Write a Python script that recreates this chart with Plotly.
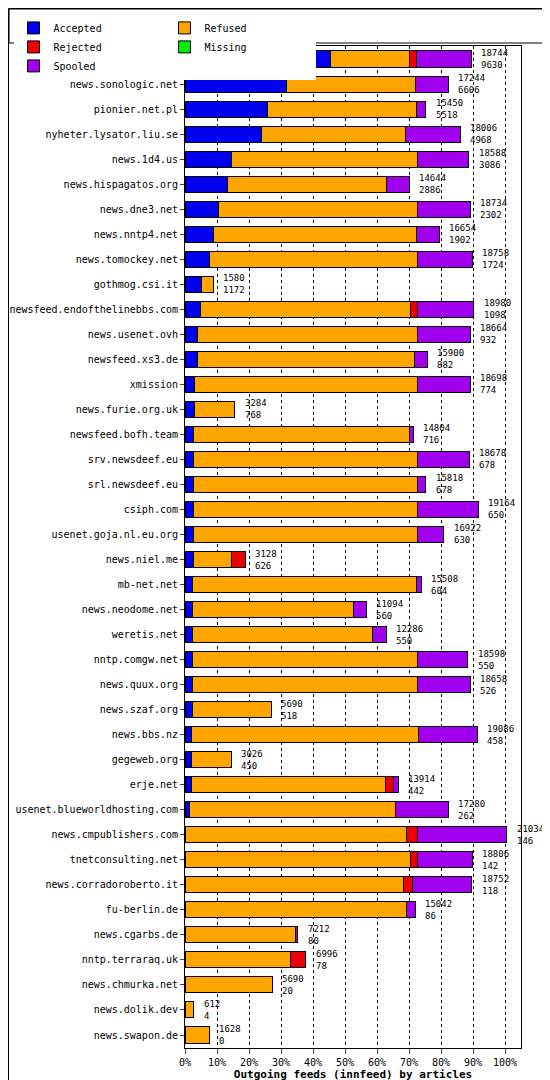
import plotly.graph_objects as go

hosts = ["news.ausics.net", "news.sonologic.net", "pionier.net.pl", "nyheter.lysator.liu.se",
         "news.1d4.us", "news.hispagatos.org", "news.dne3.net", "news.nntp4.net",
         "news.tomockey.net", "gothmog.csi.it", "newsfeed.endofthelinebbs.com", "news.usenet.ovh",
         "newsfeed.xs3.de", "xmission", "news.furie.org.uk", "newsfeed.bofh.team",
         "srv.newsdeef.eu", "srl.newsdeef.eu", "csiph.com", "usenet.goja.nl.eu.org",
         "news.niel.me", "mb-net.net", "news.neodome.net", "weretis.net",
         "nntp.comgw.net", "news.quux.org", "news.szaf.org", "news.bbs.nz",
         "gegeweb.org", "erje.net", "usenet.blueworldhosting.com", "news.cmpublishers.com",
         "tnetconsulting.net", "news.corradoroberto.it", "fu-berlin.de", "news.cgarbs.de",
         "nntp.terraraq.uk", "news.chmurka.net", "news.dolik.dev", "news.swapon.de"]
totals = [18744, 17244, 15450, 18006, 18588, 14644, 18734, 16654, 18758, 1580,
          18980, 18664, 15900, 18698, 3284, 14804, 18678, 15818, 19164, 16922,
          3128, 15508, 11094, 12286, 18598, 18658, 5690, 19086, 3026, 13914,
          17280, 21034, 18806, 18752, 15042, 7212, 6996, 5690, 612, 1628]
accepted_n = [9630, 6606, 5518, 4968, 3086, 2886, 2302, 1902, 1724, 1172,
              1098, 932, 882, 774, 768, 716, 678, 678, 650, 630,
              626, 604, 560, 550, 550, 526, 518, 458, 450, 442,
              262, 146, 142, 118, 86, 80, 78, 20, 4, 0]
# percentages
accepted = [45.6, 31.6, 25.9, 23.8, 14.4, 13.4, 10.6, 8.8, 7.8, 5.0,
            4.7, 3.8, 3.8, 3.1, 3.1, 2.8, 2.8, 2.8, 2.5, 2.5,
            2.5, 2.2, 2.2, 2.2, 2.2, 2.2, 2.2, 1.9, 1.9, 1.9,
            1.3, 0.3, 0.3, 0.3, 0.3, 0, 0, 0, 0, 0]
refused = [24.7, 40.3, 46.3, 45.0, 58.4, 49.7, 62.2, 63.4, 65.0, 3.8,
           65.9, 69.0, 67.8, 69.4, 12.5, 67.2, 69.7, 70.0, 70.3, 70.0,
           11.9, 70.0, 50.3, 56.3, 70.6, 70.6, 24.7, 71.0, 12.5, 60.9,
           64.4, 68.8, 70.3, 68.1, 68.8, 34.4, 33.1, 27.2, 2.8, 7.5]
rejected = [1.9, 0, 0, 0, 0, 0, 0, 0, 0, 0,
            1.9, 0, 0, 0, 0, 0, 0, 0, 0, 0,
            4.4, 0, 0, 0, 0, 0, 0, 0, 0, 2.5,
            0, 3.4, 1.9, 2.8, 0, 0, 4.7, 0, 0, 0]
missing = [0] * 40
spooled = [17.2, 10.3, 3.1, 17.2, 15.9, 6.9, 16.3, 7.2, 16.9, 0,
           17.8, 16.3, 4.1, 16.6, 0, 1.3, 16.3, 2.5, 18.8, 8.4,
           0, 1.6, 4.1, 4.4, 15.6, 16.3, 0, 18.4, 0, 1.3,
           16.6, 28.1, 17.2, 18.4, 2.8, 0.9, 0, 0, 0, 0]

series = [("Accepted", accepted, "#0000ee"), ("Refused", refused, "#ffa500"),
          ("Rejected", rejected, "#ee0000"), ("Missing", missing, "#00ee00"),
          ("Spooled", spooled, "#a000ee")]

font = "DejaVu Sans Mono"
fig = go.Figure()
for name, vals, col in series:
    fig.add_trace(go.Bar(y=hosts, x=vals, name=name, orientation="h",
                         marker=dict(color=col, line=dict(color="black", width=1)),
                         width=0.64))

for i, h in enumerate(hosts):
    end = accepted[i] + refused[i] + rejected[i] + missing[i] + spooled[i]
    fig.add_annotation(x=end + 2.5, y=h, text=f"{totals[i]}<br>{accepted_n[i]}",
                       showarrow=False, xanchor="left", yanchor="middle", align="left",
                       font=dict(family=font, size=9, color="black"))

# legend box and outer frame (paper coords extended beyond plot)
pw, ph = 336, 1002
def px(x): return (x - 177) / pw
def py(y): return 1 - (y - 38) / ph
fig.add_shape(type="rect", xref="paper", yref="paper", x0=px(1), x1=px(549), y0=py(35), y1=py(1),
              line=dict(color="black", width=1))
fig.add_shape(type="rect", xref="paper", yref="paper", x0=px(0.5), x1=px(549.5), y0=py(1079.5), y1=py(0.5),
              line=dict(color="black", width=1))

fig.update_layout(
    width=550, height=1080, barmode="stack", bargap=0.36,
    plot_bgcolor="white", paper_bgcolor="white",
    margin=dict(l=177, r=37, t=38, b=40, autoexpand=False),
    font=dict(family=font, size=10, color="black"),
    legend=dict(orientation="h", traceorder="normal", xref="container", yref="container",
                x=0.01, y=0.995, yanchor="top", entrywidth=106, entrywidthmode="pixels",
                font=dict(size=10)),
    xaxis=dict(range=[0, 105], tickvals=list(range(0, 101, 10)),
               ticktext=[f"{v}%" for v in range(0, 101, 10)], showgrid=True,
               gridcolor="black", griddash="dot", gridwidth=1, ticks="outside",
               showline=True, linecolor="black", mirror=True, zeroline=False,
               title=dict(text="<b>Outgoing feeds (innfeed) by articles</b>", standoff=2,
                          font=dict(size=11))),
    yaxis=dict(autorange="reversed", showline=True, linecolor="black", mirror=True,
               ticks="outside", ticklen=4, tickfont=dict(size=10)),
)
fig.write_html("out.html")
